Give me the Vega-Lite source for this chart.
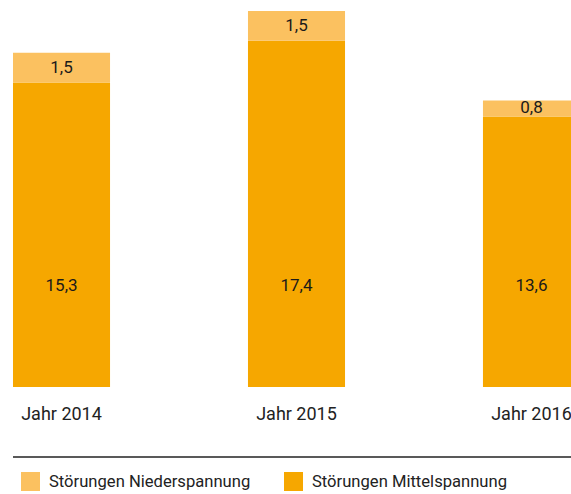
{
  "$schema": "https://vega.github.io/schema/vega-lite/v6.json",
  "width": 571,
  "height": 376,
  "autosize": {"type": "none"},
  "padding": {"top": 11, "left": 0, "right": 0, "bottom": 107},
  "background": "white",
  "config": {
    "view": {"stroke": null},
    "font": "Roboto",
    "locale": {"number": {"decimal": ",", "thousands": ".", "grouping": [3], "currency": ["", " €"]}}
  },
  "data": {
    "values": [
      {"year": "Jahr 2014", "type": "Störungen Mittelspannung", "value": 15.3, "k": 1},
      {"year": "Jahr 2014", "type": "Störungen Niederspannung", "value": 1.5, "k": 2},
      {"year": "Jahr 2015", "type": "Störungen Mittelspannung", "value": 17.4, "k": 1},
      {"year": "Jahr 2015", "type": "Störungen Niederspannung", "value": 1.5, "k": 2},
      {"year": "Jahr 2016", "type": "Störungen Mittelspannung", "value": 13.6, "k": 1},
      {"year": "Jahr 2016", "type": "Störungen Niederspannung", "value": 0.8, "k": 2}
    ]
  },
  "encoding": {
    "x": {
      "field": "year",
      "type": "nominal",
      "scale": {"type": "band", "range": [0, 593], "paddingInner": 0.587, "paddingOuter": 0.0553},
      "axis": {
        "title": null,
        "domain": false,
        "ticks": false,
        "labelAngle": 0,
        "labelFontSize": 18,
        "labelColor": "#222222",
        "labelPadding": 18,
        "labelFont": "Roboto"
      }
    }
  },
  "layer": [
    {
      "mark": {"type": "bar", "clip": true},
      "encoding": {
        "y": {
          "field": "value",
          "type": "quantitative",
          "stack": "zero",
          "scale": {"domain": [0, 18.9], "nice": false, "zero": true},
          "axis": null
        },
        "order": {"field": "k", "type": "quantitative"},
        "color": {
          "field": "type",
          "type": "nominal",
          "scale": {
            "domain": ["Störungen Niederspannung", "Störungen Mittelspannung"],
            "range": ["#FBC160", "#F6A700"]
          },
          "legend": {
            "title": null,
            "orient": "none",
            "direction": "horizontal",
            "legendX": 21,
            "legendY": 461,
            "symbolType": "square",
            "symbolSize": 361,
            "symbolStrokeWidth": 0,
            "symbolOpacity": 1,
            "labelFontSize": 16.6,
            "labelFont": "Roboto",
            "labelColor": "#222222",
            "labelOffset": 9,
            "labelLimit": 0,
            "columnPadding": 33
          }
        }
      }
    },
    {
      "transform": [
        {"stack": "value", "groupby": ["year"], "sort": [{"field": "k", "order": "ascending"}], "as": ["v0", "v1"]},
        {"filter": "datum.k == 2"},
        {"calculate": "(datum.v0 + datum.v1) / 2", "as": "mid"}
      ],
      "mark": {"type": "text", "fontSize": 17, "color": "#1a1a1a", "baseline": "middle", "font": "Roboto", "clip": false},
      "encoding": {
        "y": {"field": "mid", "type": "quantitative"},
        "text": {"field": "value", "type": "quantitative", "format": ".1f"}
      }
    },
    {
      "transform": [{"filter": "datum.k == 1"}],
      "mark": {"type": "text", "fontSize": 17, "color": "#1a1a1a", "baseline": "middle", "font": "Roboto"},
      "encoding": {
        "y": {"datum": 5.08, "type": "quantitative"},
        "text": {"field": "value", "type": "quantitative", "format": ".1f"}
      }
    },
    {
      "data": {"values": [{"sep": -3.52}]},
      "mark": {"type": "rule", "color": "#222222", "strokeWidth": 1.5},
      "encoding": {
        "x": {"datum": "Jahr 2014", "bandPosition": 0},
        "x2": {"value": "width"},
        "y": {"field": "sep", "type": "quantitative"}
      }
    }
  ]
}
